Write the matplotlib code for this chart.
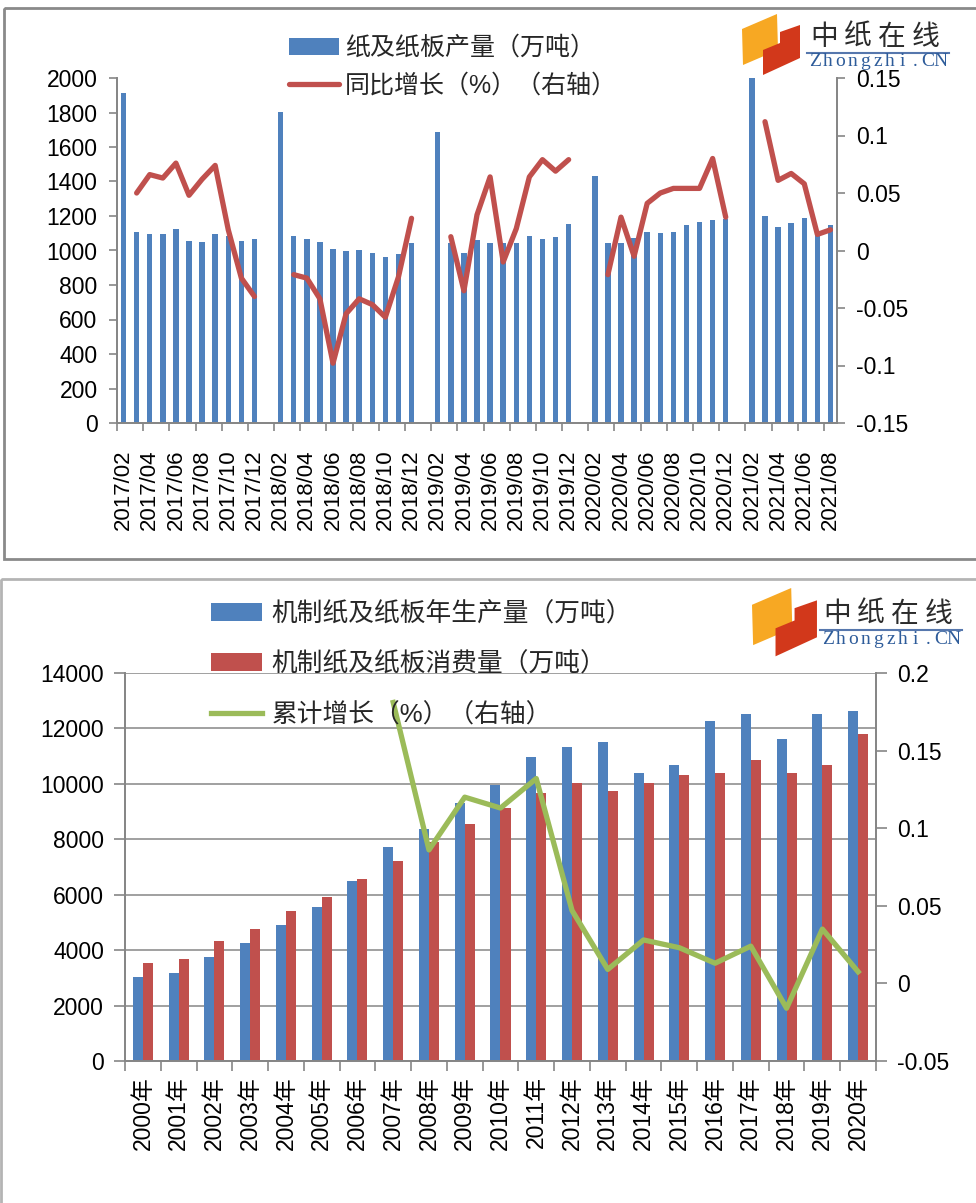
import numpy as np
import matplotlib.pyplot as plt
from matplotlib.patches import Polygon, Rectangle

plt.rcParams['font.family'] = ['Liberation Sans', 'Noto Sans CJK SC', 'DejaVu Sans']

# ---- top chart: monthly output (10k t) and y/y growth ----
months = [f"{y}/{m:02d}" for y in range(2017, 2022) for m in range(1, 13)]
months = months[1:months.index("2021/08") + 1]

paper_output = [
    1911, 1109, 1096, 1096, 1123, 1057, 1049, 1096, 1086, 1055, 1067,
    np.nan, 1801, 1086, 1065, 1047, 1010, 995, 1003, 988, 962, 979, 1042,
    np.nan, 1689, 1046, 988, 1061, 1042, 1042, 1042, 1084, 1068, 1080, 1156,
    np.nan, 1434, 1042, 1042, 1071, 1109, 1103, 1109, 1150, 1163, 1179, 1183,
    np.nan, 1998, 1198, 1136, 1159, 1188, 1110, 1150,
]
yoy_growth = [
    np.nan, 0.050, 0.066, 0.063, 0.076, 0.048, 0.062, 0.074, 0.018, -0.024, -0.040,
    np.nan, np.nan, -0.021, -0.024, -0.042, -0.098, -0.055, -0.042, -0.047, -0.058, -0.023, 0.028,
    np.nan, np.nan, 0.012, -0.035, 0.031, 0.064, -0.010, 0.019, 0.064, 0.079, 0.069, 0.079,
    np.nan, np.nan, -0.021, 0.029, -0.005, 0.041, 0.050, 0.054, 0.054, 0.054, 0.080, 0.029,
    np.nan, np.nan, 0.112, 0.061, 0.067, 0.058, 0.014, 0.018,
]

# ---- bottom chart: yearly production / consumption (10k t) and growth ----
years = [f"{y}年" for y in range(2000, 2021)]
production = [3042, 3187, 3764, 4269, 4919, 5568, 6507, 7734, 8362, 9322, 9960,
              10982, 11343, 11500, 10405, 10693, 12281, 12511, 11631, 12511, 12642]
consumption = [3548, 3692, 4342, 4774, 5424, 5929, 6579, 7228, 7914, 8542, 9119,
               9683, 10044, 9755, 10044, 10332, 10405, 10851, 10405, 10693, 11790]
cum_growth = [np.nan] * 7 + [0.181, 0.086, 0.120, 0.113, 0.132, 0.047, 0.009,
                             0.028, 0.023, 0.013, 0.024, -0.016, 0.035, 0.0075]

BLUE = '#4F81BD'
RED = '#C0504D'
GREEN = '#9BBB59'
GRAY = '#868686'

W, H = 976, 1203


def px_axes(l, t, r, b):
    return [l / W, 1 - b / H, (r - l) / W, (b - t) / H]


def fig_pt(x, y):
    return (x / W, 1 - y / H)


fig = plt.figure(figsize=(W / 100, H / 100), dpi=100)

# overlay for panel frames and logos
ov = fig.add_axes([0, 0, 1, 1], zorder=0)
ov.set_xlim(0, W)
ov.set_ylim(H, 0)
ov.axis('off')
ov.add_patch(Rectangle((4, 8), 990, 551, fill=False, ec='#8a8a8a', lw=2))
ov.add_patch(Rectangle((1, 579), 990, 640, fill=False, ec='#b4b4b4', lw=2))


def draw_logo(x0, y0, s, tx, ty):
    # icon: orange block + red block
    ov.add_patch(Polygon([(x0, y0 + 15 * s), (x0 + 35 * s, y0), (x0 + 36 * s, y0 + 36 * s),
                          (x0 + 1 * s, y0 + 51 * s)], color='#F7A823', lw=0))
    ov.add_patch(Polygon([(x0 + 21 * s, y0 + 36 * s), (x0 + 38 * s, y0 + 29 * s),
                          (x0 + 38 * s, y0 + 18 * s), (x0 + 58 * s, y0 + 11 * s),
                          (x0 + 58 * s, y0 + 44 * s), (x0 + 21 * s, y0 + 61 * s)],
                         color='#D2381B', lw=0))
    # wordmark (tx, ty = left / top of the Chinese text)
    for i, ch in enumerate('中纸在线'):
        ov.text(tx + 15 + 34 * i, ty + 12, ch, fontsize=20, color='#2b2b2b',
                family=['Noto Sans CJK SC'], ha='center', va='center')
    ov.plot([tx - 2, tx + 140], [ty + 28, ty + 28], color='#5677AD', lw=1.5)
    for i, ch in enumerate('Zhongzhi.CN'):
        ov.text(tx + 6 + 12.5 * i, ty + 37, ch, fontsize=14, color='#2E5C9A',
                family=['Liberation Serif'], ha='center', va='center')


draw_logo(742, 14, 1.0, 809, 25)
draw_logo(752, 588, 1.12, 822, 602)


def style_spines(a, a2):
    for sp in ['top']:
        a.spines[sp].set_visible(False)
        a2.spines[sp].set_visible(False)
    for sp in ['left', 'bottom', 'right']:
        a.spines[sp].set_color(GRAY)
        a2.spines[sp].set_color(GRAY)
        a.spines[sp].set_linewidth(1.3)
        a2.spines[sp].set_linewidth(1.3)


# ---------------- top chart ----------------
ax1 = fig.add_axes(px_axes(117, 78, 837, 423), zorder=2)
ax1.set_facecolor('none')
x = np.arange(len(months))
bars1 = ax1.bar(x, paper_output, width=0.42, color=BLUE, label='纸及纸板产量（万吨）')
ax1.set_xlim(-0.5, len(months) - 0.5)
ax1.set_ylim(0, 2000)
ax1.set_yticks(np.arange(0, 2001, 200))
ax1.set_xticks(x[::2])
ax1.set_xticklabels(months[::2], rotation=90, fontsize=16)
ax1.set_xticks(np.arange(-0.5, len(months), 2), minor=True)
ax1.tick_params(axis='x', which='major', length=0, pad=19)
ax1.tick_params(axis='x', which='minor', length=6, color=GRAY, width=1.2)
ax1.tick_params(axis='y', length=6, color=GRAY, width=1.2, labelsize=16.5, pad=8)

ax1b = ax1.twinx()
line1, = ax1b.plot(x, yoy_growth, color=RED, lw=3.8, solid_joinstyle='round',
                   solid_capstyle='round', label='同比增长（%）（右轴）')
ax1b.set_ylim(-0.15, 0.15)
yt = [-0.15, -0.1, -0.05, 0, 0.05, 0.1, 0.15]
ax1b.set_yticks(yt)
ax1b.set_yticklabels(['-0.15', '-0.1', '-0.05', '0', '0.05', '0.1', '0.15'])
ax1b.tick_params(axis='y', length=6, color=GRAY, width=1.2, labelsize=16.5, pad=8)
style_spines(ax1, ax1b)

ax1b.legend([bars1, line1], [bars1.get_label(), line1.get_label()],
            loc='upper left', bbox_to_anchor=fig_pt(289, 36), bbox_transform=fig.transFigure,
            frameon=False, fontsize=18, handlelength=2.0, handletextpad=0.25,
            labelspacing=0.55, borderpad=0, borderaxespad=0, labelcolor='#262626')

# ---------------- bottom chart ----------------
ax2 = fig.add_axes(px_axes(125, 673, 876, 1061), zorder=2)
ax2.set_facecolor('none')
yx = np.arange(len(years))
b_prod = ax2.bar(yx - 0.14, production, width=0.28, color=BLUE, label='机制纸及纸板年生产量（万吨）')
b_cons = ax2.bar(yx + 0.14, consumption, width=0.28, color=RED, label='机制纸及纸板消费量（万吨）')
ax2.set_xlim(-0.5, len(years) - 0.5)
ax2.set_ylim(0, 14000)
ax2.set_yticks(np.arange(0, 14001, 2000))
ax2.yaxis.grid(True, color=GRAY, lw=1.1)
ax2.set_axisbelow(True)
ax2.set_xticks(yx)
ax2.set_xticklabels(years, rotation=90, fontsize=16.5)
ax2.set_xticks(np.arange(-0.5, len(years), 1), minor=True)
ax2.tick_params(axis='x', which='major', length=0, pad=11)
ax2.tick_params(axis='x', which='minor', length=7, color=GRAY, width=1.2)
ax2.tick_params(axis='y', length=8, color=GRAY, width=1.2, labelsize=16.5, pad=7)

ax2b = ax2.twinx()
line2, = ax2b.plot(yx, cum_growth, color=GREEN, lw=3.8, solid_joinstyle='round',
                   label='累计增长（%）（右轴）')
ax2b.set_ylim(-0.05, 0.2)
ax2b.set_yticks([-0.05, 0, 0.05, 0.1, 0.15, 0.2])
ax2b.set_yticklabels(['-0.05', '0', '0.05', '0.1', '0.15', '0.2'])
ax2b.tick_params(axis='y', length=8, color=GRAY, width=1.2, labelsize=16.5, pad=7)
style_spines(ax2, ax2b)

ax2b.legend([b_prod, b_cons, line2], [b_prod.get_label(), b_cons.get_label(), line2.get_label()],
            loc='upper left', bbox_to_anchor=fig_pt(211, 601), bbox_transform=fig.transFigure,
            frameon=False, fontsize=18.5, handlelength=2.0, handletextpad=0.35,
            labelspacing=1.03, borderpad=0, borderaxespad=0, labelcolor='#262626')

fig.savefig('out.png', dpi=100, facecolor='white')
